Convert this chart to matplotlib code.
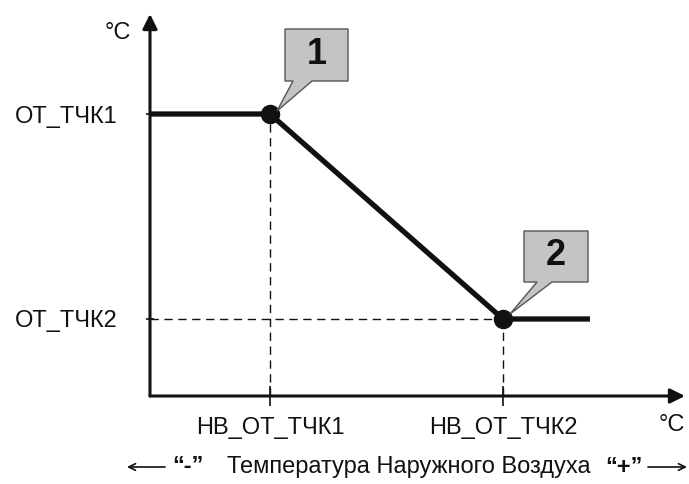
import matplotlib
matplotlib.use("Agg")
import matplotlib.pyplot as plt
from matplotlib.patches import Polygon, FancyArrowPatch

plt.rcParams['font.family'] = ['Liberation Sans', 'DejaVu Sans']

# schematic data (units: arbitrary)
line_x = [0, 120, 353, 440]
line_y = [282, 282, 77, 77]
point_x = [120, 353]
point_y = [282, 77]
point_labels = ["1", "2"]
x_tick_labels = ["НВ_ОТ_ТЧК1", "НВ_ОТ_ТЧК2"]
y_tick_labels = ["ОТ_ТЧК1", "ОТ_ТЧК2"]
# callout boxes: (x0, x1, y0, y1, base_left, base_right)
boxes = [(135, 198, 315, 367, 143, 162), (374, 438, 114, 165, 387, 402)]
tips = [(127, 285), (360, 82)]

W, H = 689, 484
FS = 17
fig = plt.figure(figsize=(W / 100, H / 100), dpi=100)
ax_l, ax_r, ax_b, ax_t = 150, 685, 396, 14
ax = fig.add_axes([ax_l / W, 1 - ax_b / H, (ax_r - ax_l) / W, (ax_b - ax_t) / H])
ax.set_xlim(0, ax_r - ax_l)
ax.set_ylim(0, ax_b - ax_t)
for s in ax.spines.values():
    s.set_visible(False)

# axes arrows
for end in [(1, 0), (0, 1)]:
    arr = FancyArrowPatch((0, 0), end, transform=ax.transAxes, arrowstyle='-|>',
                          mutation_scale=22, lw=2.2, color='#111111',
                          shrinkA=0, shrinkB=0, clip_on=False, zorder=5)
    ax.add_patch(arr)

# dashed guide lines
ax.plot([point_x[0], point_x[0]], [0, point_y[0]], ls=(0, (6, 4)), lw=1, color='#111111')
ax.plot([point_x[1], point_x[1]], [0, point_y[1]], ls=(0, (6, 4)), lw=1, color='#111111')
ax.plot([0, point_x[1]], [point_y[1], point_y[1]], ls=(0, (6, 4)), lw=1, color='#111111')

# main line
ax.plot(line_x, line_y, color='#111111', lw=3.8, solid_capstyle='butt', zorder=6)
ax.plot(point_x, point_y, 'o', color='#111111', ms=13, zorder=7)

# ticks
ax.set_xticks(point_x)
ax.set_xticklabels(x_tick_labels, fontsize=FS, color='#111111')
ax.set_yticks(point_y)
ax.set_yticklabels(y_tick_labels, fontsize=FS, color='#111111')
ax.tick_params(axis='x', direction='inout', length=14, width=1.2, pad=8, colors='#111111')
ax.tick_params(axis='y', direction='inout', length=6, width=1.2, pad=20, colors='#111111')

# callouts
for (x0, x1, y0, y1, bl, br), (tx, ty), lab in zip(boxes, tips, point_labels):
    poly = Polygon([(x0, y0), (bl, y0), (tx, ty), (br, y0), (x1, y0), (x1, y1), (x0, y1)],
                   closed=True, facecolor='#c4c4c4', edgecolor='#555555', lw=1, zorder=8)
    ax.add_patch(poly)
    ax.text((x0 + x1) / 2, (y0 + y1) / 2 + 1, lab, fontsize=26, fontweight='bold',
            ha='center', va='center', color='#111111', zorder=9)

def ftext(x, y, s, **kw):
    fig.text(x / W, 1 - y / H, s, **kw)

ftext(118, 33, "°C", fontsize=FS, ha='center', va='center', color='#111111')
ftext(672, 425, "°C", fontsize=FS, ha='center', va='center', color='#111111')
ftext(188, 467, "“-”", fontsize=FS, fontweight='bold', ha='center', va='center', color='#111111')
ftext(409, 467, "Температура Наружного Воздуха", fontsize=FS, ha='center', va='center', color='#111111')
ftext(624, 467, "“+”", fontsize=FS, fontweight='bold', ha='center', va='center', color='#111111')
for a, b in [((165, 467), (127, 467)), ((648, 467), (687, 467))]:
    arr = FancyArrowPatch((a[0] / W, 1 - a[1] / H), (b[0] / W, 1 - b[1] / H),
                          transform=fig.transFigure, arrowstyle='->', mutation_scale=12,
                          lw=1.2, color='#111111', shrinkA=0, shrinkB=0)
    fig.add_artist(arr)

fig.savefig("out.png", dpi=100)
